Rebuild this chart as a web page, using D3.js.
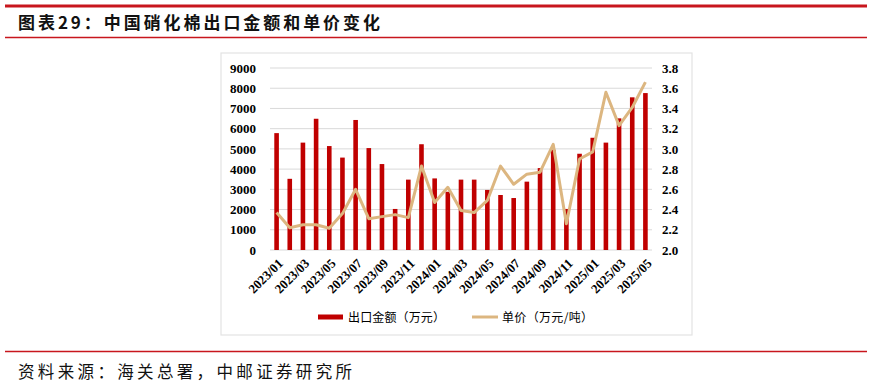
<!DOCTYPE html>
<html>
<head>
<meta charset="utf-8">
<script src="https://cdn.jsdelivr.net/npm/d3@7"></script>
<style>
  body { margin: 0; background: #fff; }
  svg { display: block; }
</style>
</head>
<body>
<svg id="chart" width="873" height="387"></svg>
<script>
// datos
const months = ['2023/01','2023/02','2023/03','2023/04','2023/05','2023/06','2023/07','2023/08','2023/09','2023/10','2023/11','2023/12',
  '2024/01','2024/02','2024/03','2024/04','2024/05','2024/06','2024/07','2024/08','2024/09','2024/10','2024/11','2024/12',
  '2025/01','2025/02','2025/03','2025/04','2025/05'];
const exportValue = [5780, 3520, 5310, 6490, 5140, 4570, 6430, 5040, 4250, 2030, 3480, 5230,
  3540, 2880, 3480, 3480, 2970, 2720, 2570, 3380, 4050, 4960, 2030, 4760,
  5550, 5310, 6510, 7550, 7760];
const unitPrice = [2.37, 2.22, 2.25, 2.25, 2.215, 2.36, 2.60, 2.31, 2.33, 2.35, 2.32, 2.83,
  2.47, 2.62, 2.39, 2.37, 2.49, 2.83, 2.65, 2.75, 2.77, 3.045, 2.26, 2.90,
  2.97, 3.56, 3.23, 3.41, 3.66];
const leftTicks = [0, 1000, 2000, 3000, 4000, 5000, 6000, 7000, 8000, 9000];
const rightTicks = [2.0, 2.2, 2.4, 2.6, 2.8, 3.0, 3.2, 3.4, 3.6, 3.8];
const legendLabels = ['出口金额（万元）', '单价（万元/吨）'];
const title = '图表29：中国硝化棉出口金额和单价变化';
const source = '资料来源：海关总署，中邮证券研究所';

const rojo = '#c00000';
const dorado = '#dcb680';
const serif = '"Liberation Serif", "Times New Roman", serif';
const cjk = '"Noto Sans CJK SC", sans-serif';

const svg = d3.select('#chart');

// encabezado
svg.append('line').attr('x1', 5).attr('x2', 867).attr('y1', 6).attr('y2', 6)
  .attr('stroke', '#c8161d').attr('stroke-width', 3);
svg.append('text').attr('x', 18).attr('y', 29)
  .attr('font-family', cjk).attr('font-weight', 700).attr('font-size', 17)
  .attr('textLength', 362).attr('lengthAdjust', 'spacing')
  .attr('fill', '#111').text(title);
svg.append('line').attr('x1', 5).attr('x2', 867).attr('y1', 37.5).attr('y2', 37.5)
  .attr('stroke', '#c8161d').attr('stroke-width', 1.5);

// marco del grafico
svg.append('rect').attr('x', 221).attr('y', 53).attr('width', 471).attr('height', 282)
  .attr('fill', 'none').attr('stroke', '#e3e3e3').attr('stroke-width', 1.2);

// escalas
const x = d3.scaleBand().domain(months).range([270, 652]);
const yL = d3.scaleLinear().domain([0, 9000]).range([250, 68]);
const yR = d3.scaleLinear().domain([2.0, 3.8]).range([250, 68]);

// rejilla
svg.append('g').selectAll('line').data(leftTicks).enter().append('line')
  .attr('x1', 270).attr('x2', 652)
  .attr('y1', d => yL(d)).attr('y2', d => yL(d))
  .attr('stroke', '#d9d9d9').attr('stroke-width', 1);

// ejes
const ejeL = svg.append('g').attr('transform', 'translate(256,0)')
  .call(d3.axisLeft(yL).tickValues(leftTicks).tickSize(0).tickPadding(0).tickFormat(d3.format('d')));
const ejeR = svg.append('g').attr('transform', 'translate(662,0)')
  .call(d3.axisRight(yR).tickValues(rightTicks).tickSize(0).tickPadding(0).tickFormat(d3.format('.1f')));
[ejeL, ejeR].forEach(g => {
  g.select('.domain').remove();
  g.selectAll('text').attr('font-family', serif).attr('font-weight', 700)
    .attr('font-size', 13).attr('fill', '#000');
});

// barras
const bw = 4.6;
svg.append('g').selectAll('rect').data(exportValue).enter().append('rect')
  .attr('x', (d, i) => x(months[i]) + x.bandwidth() / 2 - bw / 2)
  .attr('y', d => yL(d))
  .attr('width', bw)
  .attr('height', d => yL(0) - yL(d))
  .attr('fill', rojo);

// linea de precio
const linea = d3.line()
  .x((d, i) => x(months[i]) + x.bandwidth() / 2)
  .y(d => yR(d));
svg.append('path').datum(unitPrice)
  .attr('d', linea)
  .attr('fill', 'none').attr('stroke', dorado).attr('stroke-width', 3)
  .attr('stroke-linejoin', 'round');

// etiquetas del eje x
svg.append('g').selectAll('text').data(months.filter((d, i) => i % 2 === 0)).enter().append('text')
  .attr('transform', d => `translate(${x(d) + x.bandwidth() / 2 + 4},${261}) rotate(-45)`)
  .attr('text-anchor', 'end')
  .attr('dy', '0.35em')
  .attr('font-family', serif).attr('font-weight', 700).attr('font-size', 13)
  .attr('fill', '#000')
  .text(d => d);

// leyenda
const leyenda = svg.append('g');
leyenda.append('rect').attr('x', 318).attr('y', 314.5).attr('width', 25).attr('height', 5).attr('fill', rojo);
leyenda.append('text').attr('x', 348).attr('y', 321.5)
  .attr('font-family', cjk).attr('font-size', 12).attr('fill', '#000')
  .attr('textLength', 97).attr('lengthAdjust', 'spacing').text(legendLabels[0]);
leyenda.append('line').attr('x1', 472).attr('x2', 498).attr('y1', 317).attr('y2', 317)
  .attr('stroke', dorado).attr('stroke-width', 3);
leyenda.append('text').attr('x', 502).attr('y', 321.5)
  .attr('font-family', cjk).attr('font-size', 12).attr('fill', '#000')
  .attr('textLength', 91).attr('lengthAdjust', 'spacing').text(legendLabels[1]);

// pie
svg.append('line').attr('x1', 5).attr('x2', 867).attr('y1', 351.5).attr('y2', 351.5)
  .attr('stroke', '#c8161d').attr('stroke-width', 1.5);
svg.append('text').attr('x', 18).attr('y', 378)
  .attr('font-family', cjk).attr('font-size', 16.5).attr('fill', '#111')
  .attr('textLength', 334).attr('lengthAdjust', 'spacing').text(source);
</script>
</body>
</html>
